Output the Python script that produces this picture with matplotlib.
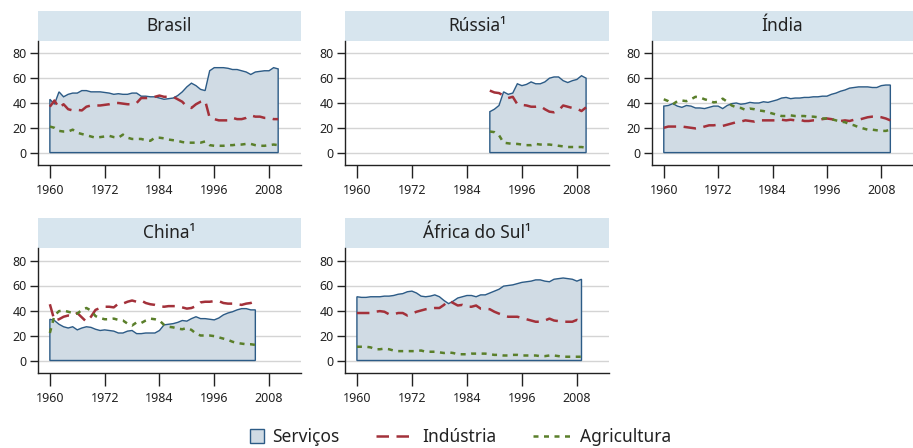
import numpy as np
import matplotlib.pyplot as plt
from matplotlib.patches import Rectangle, Patch
from matplotlib.lines import Line2D
from matplotlib.legend_handler import HandlerPatch

plt.rcParams['font.family'] = ['Noto Sans', 'DejaVu Sans']

# ---- data (% of GDP) ----
brasil_anos = list(range(1960, 2011))
brasil_serv = [43, 39, 49, 45, 47, 48, 48, 50, 50, 49, 49, 49, 48.5, 48, 47, 47.5, 47, 47, 48, 48,
               45.5, 45.5, 45, 45, 44, 43, 43.5, 44, 46, 49, 53, 56, 54, 51, 50, 66, 68.5, 68.5, 68.5, 68,
               67, 67, 66, 65, 63, 65, 65.5, 66, 66, 68.5, 67.5]
brasil_ind = [37, 42, 36, 39, 35, 34, 34.5, 34, 37, 38, 38, 38, 38.5, 39, 40, 40, 39.5, 39, 39, 40,
              44, 44, 44, 45, 46, 45, 45, 45, 43, 41, 37, 36, 39, 41, 42, 28, 27, 26, 26, 26,
              28, 27, 27, 28, 30, 29, 29, 28, 28, 27, 27]
brasil_agr = [21, 20, 17.5, 17, 17, 18.5, 16, 15, 14, 13, 12, 12.5, 13, 13.5, 12.5, 12, 14.5, 12, 11, 11,
              11, 10, 9.5, 12, 12, 11.5, 10.5, 10, 9.5, 8.5, 8, 8, 8, 8, 9, 6, 5.5, 5.5, 5.5, 6,
              6, 6.5, 6.5, 7, 7, 6, 5.5, 5.5, 6, 6.5, 6]

russia_anos = list(range(1989, 2011))
russia_serv = [33, 35, 38, 49, 47, 48, 55.5, 54, 55, 57, 55.5, 55.5, 57, 60, 61, 61, 58, 56.5, 58, 59, 62, 60]
russia_ind = [50, 48.5, 48, 46, 44, 45, 39, 38.5, 38, 37, 37, 37.5, 35, 33, 32.5, 34, 38, 37, 36, 35.5, 33.5, 36.5]
russia_agr = [17, 16.5, 14, 8, 7.5, 7, 7, 6.5, 6, 6, 7, 6.5, 6.5, 6.5, 6, 5.5, 5, 4.5, 4.5, 4.5, 4.5, 4]

india_anos = list(range(1960, 2011))
india_serv = [37.5, 38, 39.5, 37.5, 36.5, 38, 37.5, 36, 36, 35.5, 36.5, 37.5, 37.5, 35.5, 38, 39.5, 40, 39, 39.5, 40.5,
              40, 40, 41, 40.5, 41.5, 42.5, 44, 44.5, 43.5, 44, 44, 44.5, 44.5, 45, 45, 45.5, 45.5, 47, 48, 49.5,
              50.5, 52, 52.5, 53, 53, 53, 52.5, 52.5, 54, 54.5, 54.5]
india_ind = [20, 21, 21, 21, 21, 20.5, 20, 19.5, 20, 21, 22, 22, 22.5, 21.5, 22.5, 23.5, 24.5, 25, 26, 25.5,
             25, 26, 26, 26, 26, 26, 26.5, 26, 26.5, 26, 26.5, 25.5, 25.5, 26, 26, 27, 27.5, 27, 26, 25.5,
             26, 25.5, 26.5, 26.5, 27.5, 28.5, 29, 29, 28.5, 27.5, 26]
india_agr = [43, 41.5, 39, 41.5, 42, 41.5, 43, 45, 44.5, 43, 42, 40.5, 41, 43.5, 41, 38, 36.5, 36, 34.5, 35.5,
             35, 34, 33.5, 32.5, 31.5, 30.5, 29.5, 29.5, 30, 29.5, 29.5, 29.5, 29, 29, 28.5, 27.5, 27.5, 27, 26, 25,
             24.5, 23, 22, 20.5, 19.5, 18.5, 18.5, 18, 17.5, 17.5, 18.5]

china_anos = list(range(1960, 2006))
china_serv = [33, 32, 29, 27, 26, 27, 24.5, 26, 27, 26.5, 25, 24, 24.5, 24, 23.5, 22, 22, 23.5, 24, 21.5,
              21.5, 22, 22, 22, 24, 28.5, 29, 29.5, 30.5, 32, 31.5, 33.5, 35, 33.5, 33.5, 33, 32.5, 34, 36.5, 38,
              39, 40.5, 41.5, 41.5, 40.5, 40.5]
china_ind = [45, 32, 33, 35, 36, 35.5, 38, 34.5, 31, 35, 40.5, 42, 43, 43, 42.5, 45.5, 45.5, 47, 48, 47,
             48, 46, 45, 44.5, 43.5, 43, 43.5, 43.5, 43.5, 42.5, 41.5, 42, 43.5, 46.5, 47, 47, 47.5, 47.5, 46, 45.5,
             45.5, 45, 44.5, 45.5, 46, 47.5]
china_agr = [22, 36, 39.5, 40, 39, 38, 37.5, 40.5, 42, 40, 35.5, 34, 33, 33, 33.5, 32.5, 32, 29.5, 28, 30.5,
             30, 32, 33.5, 33, 32, 28.5, 27, 26.5, 25.5, 25, 26, 24.5, 21.5, 20, 20, 20, 19.5, 18.5, 17.5, 16.5,
             15, 14, 13.5, 13, 13, 12.5]

africa_anos = list(range(1960, 2010))
africa_serv = [51, 50.5, 50.5, 51, 51, 51, 51.5, 51.5, 52, 53, 53.5, 55, 55.5, 54, 51.5, 51, 51.5, 52.5, 51, 48,
               45.5, 47.5, 50, 51, 52, 52, 51, 52.5, 52.5, 54, 55.5, 57, 59.5, 60, 60.5, 61.5, 62.5, 63, 63.5, 64.5,
               64.5, 63.5, 63, 65, 65.5, 66, 65.5, 65, 63.5, 65]
africa_ind = [38, 38, 38, 38, 39, 39.5, 39, 37, 37, 38, 38, 36, 37.5, 39, 40, 41, 41.5, 42, 42, 44.5,
              48, 46, 44, 44.5, 43, 43, 44, 41.5, 41.5, 41, 39, 37.5, 36, 35, 35, 35, 34, 33, 32, 31,
              31, 32, 33.5, 32, 31.5, 31, 31, 31, 32.5, 31]
africa_agr = [11, 11, 11, 10.5, 9, 9, 9.5, 9, 8, 7.5, 7.5, 7.5, 7.5, 7.5, 8, 7, 7, 7, 6.5, 6,
              6.5, 6, 5, 5, 5, 5.5, 5.5, 5.5, 5.5, 5, 4.5, 4.5, 4, 4, 4.5, 4.5, 4, 4, 4, 4,
              3.5, 3.5, 4, 4, 3.5, 3, 3, 3, 3, 3]

paineis = [
    ("Brasil", brasil_anos, brasil_serv, brasil_ind, brasil_agr),
    ("Rússia¹", russia_anos, russia_serv, russia_ind, russia_agr),
    ("Índia", india_anos, india_serv, india_ind, india_agr),
    ("China¹", china_anos, china_serv, china_ind, china_agr),
    ("África do Sul¹", africa_anos, africa_serv, africa_ind, africa_agr),
]

cor_fill = "#d0dbe4"
cor_borda = "#2c5b86"
cor_ind = "#a3313a"
cor_agr = "#5a7f2a"
cor_faixa = "#d7e5ee"
cor_texto = "#222222"

W, H = 913, 448
fig = plt.figure(figsize=(W / 100, H / 100), dpi=100)

# axes boxes in pixels: (left, right), (top, bottom)
cols = [(38, 301), (345, 609), (652, 913)]
rows = [(41, 165), (248, 373)]
strip_h = 30

for i, (nome, anos, serv, ind, agr) in enumerate(paineis):
    l, r = cols[i % 3]
    t, b = rows[i // 3]
    ax = fig.add_axes([l / W, 1 - b / H, (r - l) / W, (b - t) / H])

    x = [anos[0]] + anos + [anos[-1]]
    y = [0] + serv + [0]
    ax.fill(x, y, facecolor=cor_fill, edgecolor=cor_borda, lw=1.0, zorder=2)
    ax.plot(anos, ind, color=cor_ind, lw=1.8, dashes=(5, 3), zorder=3)
    ax.plot(anos, agr, color=cor_agr, lw=1.8, dashes=(2, 2.2), zorder=3)

    ax.set_xlim(1957.4, 2015)
    ax.set_ylim(-10, 90)
    ax.set_xticks([1960, 1972, 1984, 1996, 2008])
    ax.set_yticks([0, 20, 40, 60, 80])
    ax.yaxis.grid(True, color="#d4d4d4", lw=1.0, zorder=0)
    ax.set_axisbelow(True)
    for s in ["top", "right"]:
        ax.spines[s].set_visible(False)
    for s in ["left", "bottom"]:
        ax.spines[s].set_color("#222222")
        ax.spines[s].set_linewidth(1.0)
    ax.tick_params(axis="both", colors="#222222", labelcolor=cor_texto, labelsize=9, width=1.0)
    ax.tick_params(axis="x", length=9, pad=5)
    ax.tick_params(axis="y", length=6, pad=2)

    # faixa do título
    hh = strip_h / (b - t)
    ax.add_patch(Rectangle((0, 1), 1, hh, transform=ax.transAxes, facecolor=cor_faixa,
                           edgecolor="none", clip_on=False))
    ax.text(0.5, 1 + hh / 2, nome, transform=ax.transAxes, ha="center", va="center",
            fontsize=12.5, color=cor_texto)


def quadrado(legend, orig_handle, xdescent, ydescent, width, height, fontsize):
    s = height * 1.15
    return Rectangle((xdescent + width - s, ydescent - (s - height) / 2), s, s)


handles = [
    Patch(facecolor=cor_fill, edgecolor=cor_borda, lw=1.0),
    Line2D([], [], color=cor_ind, lw=1.8, dashes=(5, 3)),
    Line2D([], [], color=cor_agr, lw=1.8, dashes=(2, 2.2)),
]
fig.legend(handles, ["Serviços", "Indústria", "Agricultura"], loc="center",
           bbox_to_anchor=(0.491, 1 - 437 / H), ncol=3, frameon=False, fontsize=12.5,
           columnspacing=2.1, handlelength=2.25, handletextpad=0.45, labelcolor=cor_texto,
           handler_map={Patch: HandlerPatch(patch_func=quadrado)})

fig.savefig("out.png", dpi=100)
